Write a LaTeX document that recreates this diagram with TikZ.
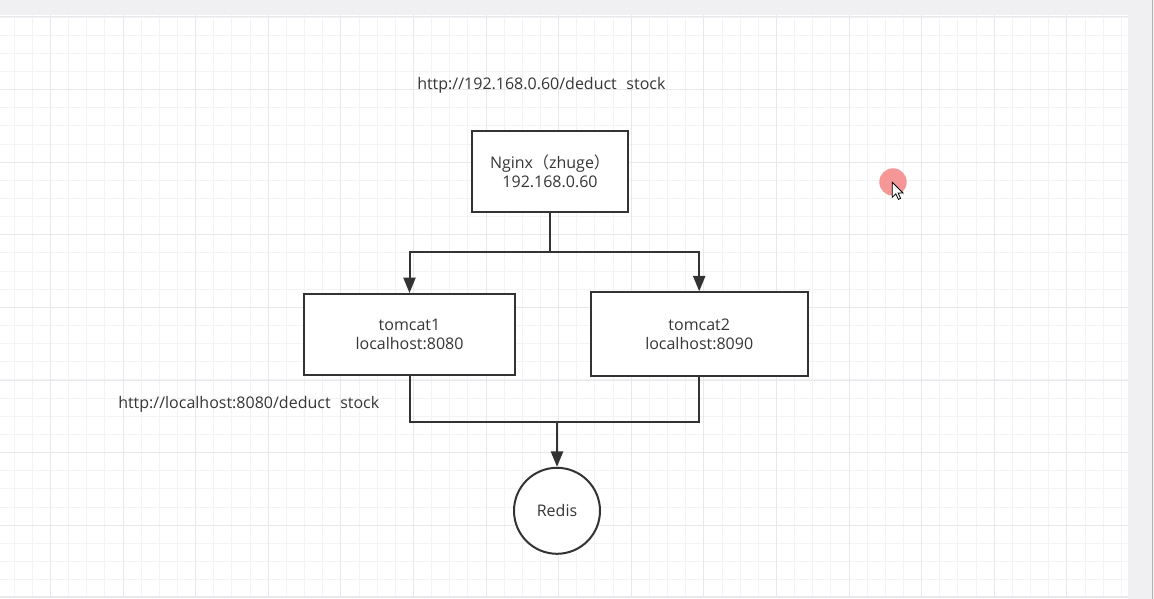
\documentclass[tikz,border=0pt]{standalone}
\usepackage{fontspec}
\setmainfont{Open Sans}
\newfontfamily\cjk{Noto Sans CJK SC}
\usetikzlibrary{arrows.meta}
\definecolor{ink}{HTML}{333333}
\definecolor{txt}{HTML}{363636}
\definecolor{gridminor}{HTML}{F3F3F6}
\definecolor{gridmajor}{HTML}{E8E8EC}
\definecolor{band}{HTML}{F0F0F2}
\definecolor{dot}{HTML}{F58C8C}
\tikzset{
  box/.style={draw=ink,line width=1.5pt,fill=white,inner sep=0pt,align=center,
    text=txt,font=\fontsize{12}{14.25}\selectfont},
  roundbox/.style={draw=ink,line width=1.5pt,fill=white,circle,inner sep=0pt,
    text=txt,font=\fontsize{12}{14.25}\selectfont},
  lbl/.style={inner sep=0pt,text=txt,font=\fontsize{12}{14.25}\selectfont,anchor=base west},
  conn/.style={draw=ink,line width=1.5pt},
  arr/.style={conn,-{Triangle[length=11.5pt,width=9pt]}},
}
\begin{document}
\begin{tikzpicture}[x=0.75pt,y=-0.75pt]
\useasboundingbox (0,0) rectangle (1154,599);
% background
\fill[white] (0,0) rectangle (1154,599);
\begin{scope}
\clip (0,15) rectangle (1128,597);
\foreach \i in {-2,...,59} {
  \pgfmathsetmacro{\xx}{round(50+18.15*\i)+0.5}
  \draw[gridminor,line width=0.75pt] (\xx,0) -- (\xx,599);
}
\foreach \i in {-8,...,24} {
  \pgfmathsetmacro{\yy}{round(161.7+18.15*\i)+0.5}
  \draw[gridminor,line width=0.75pt] (0,\yy) -- (1154,\yy);
}
\foreach \i in {0,...,15} {
  \pgfmathsetmacro{\xx}{round(50+72.6*\i)+0.5}
  \draw[gridmajor,line width=0.75pt] (\xx,0) -- (\xx,599);
}
\foreach \i in {-2,...,6} {
  \pgfmathsetmacro{\yy}{round(161.7+72.6*\i)+0.5}
  \draw[gridmajor,line width=0.75pt] (0,\yy) -- (1154,\yy);
}
\end{scope}
\fill[band] (0,0) rectangle (1154,15);
\fill[band] (1128,0) rectangle (1154,599);
\draw[gridmajor,line width=0.75pt] (0,596.5) -- (1128,596.5);
\draw[gray!60,line width=1.2pt] (1152.5,0) -- (1152.5,599);

% nodes
\node[box,minimum width=117pt,minimum height=60.5pt] (ngx) at (550,171.2)
  {Nginx{\cjk （}zhuge{\cjk ）}\\192.168.0.60};
\node[box,minimum width=158.25pt,minimum height=60.75pt] (t1) at (409.5,334.5)
  {tomcat1\\localhost:8080};
\node[box,minimum width=162.75pt,minimum height=62.8pt] (t2) at (699.2,334.2)
  {tomcat2\\localhost:8090};
\node[roundbox,minimum size=64.5pt] (redis) at (557,510.8) {Redis};

\node[lbl] (url1) at (417,89.3) {http://192.168.0.60/deduct\hspace{0.6em}stock};
\node[lbl] (url2) at (118,408.3) {http://localhost:8080/deduct\hspace{0.6em}stock};

% connectors
\coordinate (j1) at (550,252.3);
\coordinate (j2) at (557,421.5);
\draw[conn] (ngx.south) -- (j1);
\draw[arr] (j1) -| (t1.north);
\draw[arr] (j1) -| (t2.north);
\draw[conn] (t1.south) |- (j2);
\draw[conn] (t2.south) |- (j2);
\draw[arr,line width=1.8pt] (j2) -- (redis.north);

% screen pointer overlay
\fill[dot,opacity=0.9] (893,182) circle (13.7);
\coordinate (ptr) at (892.3,182.3);
\draw[black,fill=white,line width=0.6pt,line join=miter]
  (ptr) -- ++(0,15) -- ++(3.5,-3.5) -- ++(2.6,5.6) -- ++(2.2,-1) -- ++(-2.5,-5.4)
  -- ++(4.9,0) -- cycle;
\end{tikzpicture}
\end{document}
